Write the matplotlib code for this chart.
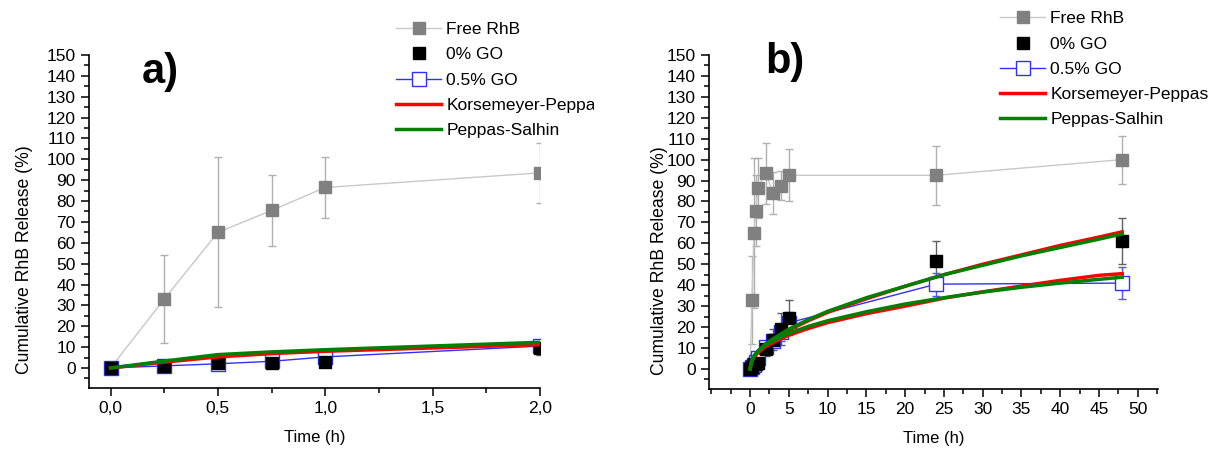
import matplotlib.pyplot as plt
from matplotlib.patches import Rectangle
from matplotlib.ticker import MultipleLocator, FuncFormatter

plt.rcParams['font.family'] = ['Liberation Sans', 'DejaVu Sans']

# sampling times (h)
t_a = [0, 0.25, 0.5, 0.75, 1, 2]
t_b = [0, 0.25, 0.5, 0.75, 1, 2, 3, 4, 5, 24, 48]

# cumulative release (%) and error
free_rhb = [0, 33, 65, 75.5, 86.5, 93.5, 84, 87.5, 92.5, 92.5, 100]
free_err = [0, 21, 36, 17, 14.5, 14.5, 10, 7, 12.5, 14, 11.5]
go0 = [0, 0.8, 2.2, 2.5, 3, 9.5, 14, 19, 24.5, 51.5, 61]
go0_err = [0, 0.5, 1, 1, 1.5, 3.5, 5, 7.5, 8.5, 9.5, 11]
go05 = [0, 1, 2, 3.2, 5.3, 10.5, 13.5, 17.5, 22, 40.5, 41]
go05_err = [0, 0.5, 0.8, 1, 1.5, 2.5, 3, 4, 5, 5.5, 7.5]

# model fits, panel a (short times)
kp_a = [0, 2.8, 5.3, 6.9, 8.0, 11.2]
ps_a = [0, 3.3, 6.4, 7.7, 8.75, 12.3]

# model fits, panel b
t_fit = [0, 0.25, 0.5, 1, 2, 3, 5, 7.5, 10, 15, 20, 25, 30, 35, 40, 45, 48]
kp_go0 = [0, 4, 5.5, 8, 11.5, 14, 18.5, 23, 27, 33.5, 39.5, 45, 50, 54.5, 59, 63, 65.5]
ps_go0 = [0, 4.5, 6, 8.5, 12, 14.5, 19, 23.5, 27.5, 34, 39.5, 45, 49.5, 54, 58, 62, 64.5]
kp_go05 = [0, 4, 5.6, 7.7, 10.6, 12.7, 16.1, 19.3, 22.1, 26.4, 30, 33.8, 36.8, 39.6, 42.3, 44.7, 45.5]
ps_go05 = [0, 4.5, 6.2, 8.5, 11.5, 13.5, 17, 20.3, 23, 27.3, 31, 34, 36.7, 39, 41, 42.8, 43.8]

FS = 12.5
fig = plt.figure(figsize=(12.15, 4.51), dpi=100)
ax1 = fig.add_axes([0.0733, 0.1397, 0.3712, 0.7384])
ax2 = fig.add_axes([0.5835, 0.1375, 0.3695, 0.7406])


def draw_data(ax, t, n):
    ax.errorbar(t, free_rhb[:n], yerr=free_err[:n], fmt='none', ecolor='#b0b0b0',
                elinewidth=1, capsize=3, capthick=1, zorder=2)
    ax.errorbar(t, go0[:n], yerr=go0_err[:n], fmt='none', ecolor='#606060',
                elinewidth=1, capsize=3, capthick=1, zorder=2)
    ax.errorbar(t, go05[:n], yerr=go05_err[:n], fmt='none', ecolor='#5555ff',
                elinewidth=1, capsize=3, capthick=1, zorder=2)
    ax.plot(t, free_rhb[:n], color='#c8c8c8', lw=1, marker='s', ms=9,
            mfc='#808080', mec='#808080', label='Free RhB', zorder=3)
    ax.plot(t, go05[:n], color='#3030ff', lw=1, marker='s', ms=9.5,
            mfc='white', mec='#3030ff', mew=1, label='0.5% GO', zorder=3)
    ax.plot(t, go0[:n], ls='none', marker='s', ms=8.5, mfc='black', mec='black',
            label='0% GO', zorder=4)


def style(ax):
    ax.spines['top'].set_visible(False)
    ax.spines['right'].set_visible(False)
    for s in ('left', 'bottom'):
        ax.spines[s].set_linewidth(1.2)
    ax.set_ylim(-9.6, 150)
    ax.yaxis.set_major_locator(MultipleLocator(10))
    ax.yaxis.set_minor_locator(MultipleLocator(5))
    ax.tick_params(which='major', direction='out', length=6, width=1.1, labelsize=FS)
    ax.tick_params(which='minor', direction='out', length=3.5, width=1.1)
    ax.set_ylabel('Cumulative RhB Release (%)', fontsize=12.7)
    ax.set_xlabel('Time (h)', fontsize=12)
    ax.xaxis.set_label_coords(0.5, -0.125)


# panel a
draw_data(ax1, t_a, len(t_a))
ax1.plot(t_a, kp_a, color='#ff0000', lw=2.5, label='Korsemeyer-Peppas', zorder=5)
ax1.plot(t_a, ps_a, color='#008000', lw=2.5, label='Peppas-Salhin', zorder=5)
style(ax1)
ax1.set_xlim(-0.1, 2.0)
ax1.xaxis.set_major_locator(MultipleLocator(0.5))
ax1.xaxis.set_minor_locator(MultipleLocator(0.25))
ax1.xaxis.set_major_formatter(FuncFormatter(lambda v, p: f'{v:.1f}'.replace('.', ',')))
ax1.yaxis.set_label_coords(-0.124, 0.385)

# panel b
draw_data(ax2, t_b, len(t_b))
ax2.plot(t_fit, kp_go0, color='#ff0000', lw=2.5, label='Korsemeyer-Peppas', zorder=5)
ax2.plot(t_fit, kp_go05, color='#ff0000', lw=2.5, zorder=5)
ax2.plot(t_fit, ps_go0, color='#008000', lw=2.5, label='Peppas-Salhin', zorder=6)
ax2.plot(t_fit, ps_go05, color='#008000', lw=2.5, zorder=6)
style(ax2)
ax2.set_xlim(-5.3, 52.6)
ax2.set_xticks(range(0, 51, 5))
ax2.set_xticks([x * 2.5 for x in range(-2, 22)], minor=True)
ax2.yaxis.set_label_coords(-0.091, 0.385)

order = ['Free RhB', '0% GO', '0.5% GO', 'Korsemeyer-Peppas', 'Peppas-Salhin']
for ax, x0, y0 in [(ax1, 0.326, 0.951), (ax2, 0.823, 0.975)]:
    h, l = ax.get_legend_handles_labels()
    hd = dict(zip(l, h))
    ax.legend([hd[k] for k in order], order, loc='upper left', bbox_to_anchor=(x0, y0),
              bbox_transform=fig.transFigure, frameon=False, fontsize=FS, numpoints=1,
              handlelength=2.6, handletextpad=0.3, labelspacing=0.58, borderpad=0,
              borderaxespad=0)

# right part of panel a legend is cut off in the original
fig.add_artist(Rectangle((594 / 1215, 1 - 118 / 451), 45 / 1215, 28 / 451,
                         transform=fig.transFigure, facecolor='white',
                         edgecolor='none', zorder=10))

fig.text(160 / 1215, 1 - 72 / 451, 'a)', fontsize=30, fontweight='bold', ha='center', va='center')
fig.text(785 / 1215, 1 - 62 / 451, 'b)', fontsize=30, fontweight='bold', ha='center', va='center')

fig.savefig('out.png', dpi=100)
